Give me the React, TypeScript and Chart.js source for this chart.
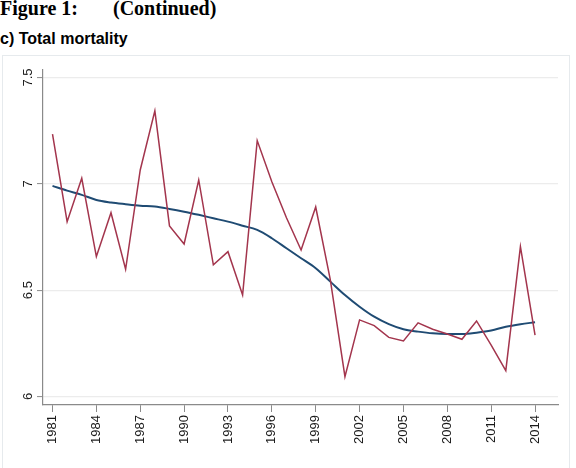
import React, { useEffect, useRef } from "react";
import { Chart, registerables } from "chart.js";

Chart.register(...registerables);

const years: number[] = [
  1981, 1982, 1983, 1984, 1985, 1986, 1987, 1988, 1989, 1990, 1991, 1992,
  1993, 1994, 1995, 1996, 1997, 1998, 1999, 2000, 2001, 2002, 2003, 2004,
  2005, 2006, 2007, 2008, 2009, 2010, 2011, 2012, 2013, 2014,
];

const mortality: number[] = [
  7.234, 6.822, 7.026, 6.658, 6.864, 6.598, 7.065, 7.343, 6.802, 6.717,
  7.018, 6.619, 6.681, 6.477, 7.203, 7.01, 6.84, 6.689, 6.891, 6.548,
  6.093, 6.36, 6.333, 6.278, 6.261, 6.346, 6.316, 6.294, 6.269, 6.355,
  6.242, 6.122, 6.705, 6.289,
];

const trend: number[] = [
  6.99, 6.968, 6.948, 6.924, 6.912, 6.904, 6.897, 6.893, 6.882, 6.869,
  6.854, 6.838, 6.822, 6.803, 6.783, 6.744, 6.697, 6.65, 6.603, 6.54,
  6.477, 6.422, 6.375, 6.34, 6.316, 6.305, 6.297, 6.294, 6.294, 6.3,
  6.31, 6.328, 6.34, 6.349,
];

const xTickYears: number[] = [
  1981, 1984, 1987, 1990, 1993, 1996, 1999, 2002, 2005, 2008, 2011, 2014,
];
const yTickValues: number[] = [6, 6.5, 7, 7.5];

const figureLabel = "Figure 1:";
const continuedLabel = "(Continued)";
const panelTitle = "c) Total mortality";

export default function App() {
  const canvasRef = useRef<HTMLCanvasElement | null>(null);

  useEffect(() => {
    const canvas = canvasRef.current;
    if (!canvas) return;
    const chart = new Chart(canvas, {
      type: "line",
      data: {
        datasets: [
          {
            label: "Total mortality",
            data: years.map((y, i) => ({ x: y, y: mortality[i] })),
            borderColor: "#a3354d",
            borderWidth: 1.5,
            pointRadius: 0,
            tension: 0,
            fill: false,
          },
          {
            label: "Trend",
            data: years.map((y, i) => ({ x: y, y: trend[i] })),
            borderColor: "#1f4b73",
            borderWidth: 2,
            pointRadius: 0,
            cubicInterpolationMode: "monotone",
            fill: false,
          },
        ],
      },
      options: {
        animation: false,
        responsive: false,
        maintainAspectRatio: false,
        events: [],
        layout: { padding: { top: 14, right: 18, bottom: 0, left: 0 } },
        plugins: {
          legend: { display: false },
          tooltip: { enabled: false },
          title: { display: false },
        },
        scales: {
          x: {
            type: "linear",
            min: 1980.35,
            max: 2015.57,
            afterBuildTicks: (scale: any) => {
              scale.ticks = xTickYears.map((v) => ({ value: v }));
            },
            afterFit: (scale: any) => {
              scale.height = 63;
            },
            grid: {
              drawOnChartArea: false,
              drawTicks: true,
              tickLength: 7,
              tickColor: "#8a8a8a",
              tickWidth: 1,
            },
            border: { display: true, color: "#8a8a8a", width: 1.2 },
            ticks: {
              autoSkip: false,
              minRotation: 90,
              maxRotation: 90,
              padding: 3,
              color: "#1a1a1a",
              font: { family: "'Liberation Sans', Arial, sans-serif", size: 13 },
              callback: (v: any) => String(v),
            },
          },
          y: {
            type: "linear",
            min: 5.96,
            max: 7.535,
            afterBuildTicks: (scale: any) => {
              scale.ticks = yTickValues.map((v) => ({ value: v }));
            },
            afterFit: (scale: any) => {
              scale.width = 43;
            },
            grid: {
              color: "#ececec",
              lineWidth: 1.2,
              drawTicks: true,
              tickLength: 6,
              tickColor: "#8a8a8a",
              tickWidth: 1,
            },
            border: { display: true, color: "#8a8a8a", width: 1.2 },
            ticks: {
              minRotation: 90,
              maxRotation: 90,
              crossAlign: "center",
              padding: 0,
              color: "#1a1a1a",
              font: { family: "'Liberation Sans', Arial, sans-serif", size: 13 },
              callback: (v: any) => String(v),
            },
          },
        },
      },
    });
    return () => chart.destroy();
  }, []);

  return (
    <div
      style={{
        position: "absolute",
        left: 0,
        top: 0,
        width: 576,
        height: 468,
        background: "#ffffff",
        overflow: "hidden",
      }}
    >
      <div
        style={{
          position: "absolute",
          left: 0,
          top: -2,
          fontFamily: "'Liberation Serif', 'Times New Roman', serif",
          fontWeight: "bold",
          fontSize: 20,
          lineHeight: "20px",
          color: "#000",
          whiteSpace: "nowrap",
        }}
      >
        {figureLabel}
      </div>
      <div
        style={{
          position: "absolute",
          left: 113,
          top: -2,
          fontFamily: "'Liberation Serif', 'Times New Roman', serif",
          fontWeight: "bold",
          fontSize: 20,
          lineHeight: "20px",
          color: "#000",
          whiteSpace: "nowrap",
        }}
      >
        {continuedLabel}
      </div>
      <div
        style={{
          position: "absolute",
          left: 0,
          top: 31,
          fontFamily: "'Liberation Sans', Arial, sans-serif",
          fontWeight: "bold",
          fontSize: 16,
          lineHeight: "16px",
          color: "#000",
          whiteSpace: "nowrap",
        }}
      >
        {panelTitle}
      </div>
      <div
        style={{
          position: "absolute",
          left: 2,
          top: 55,
          width: 568,
          height: 430,
          border: "1px solid #e6eaed",
          boxSizing: "border-box",
        }}
      />
      <canvas
        ref={canvasRef}
        width={576}
        height={412}
        style={{ position: "absolute", left: 0, top: 56, width: 576, height: 412 }}
      />
    </div>
  );
}
